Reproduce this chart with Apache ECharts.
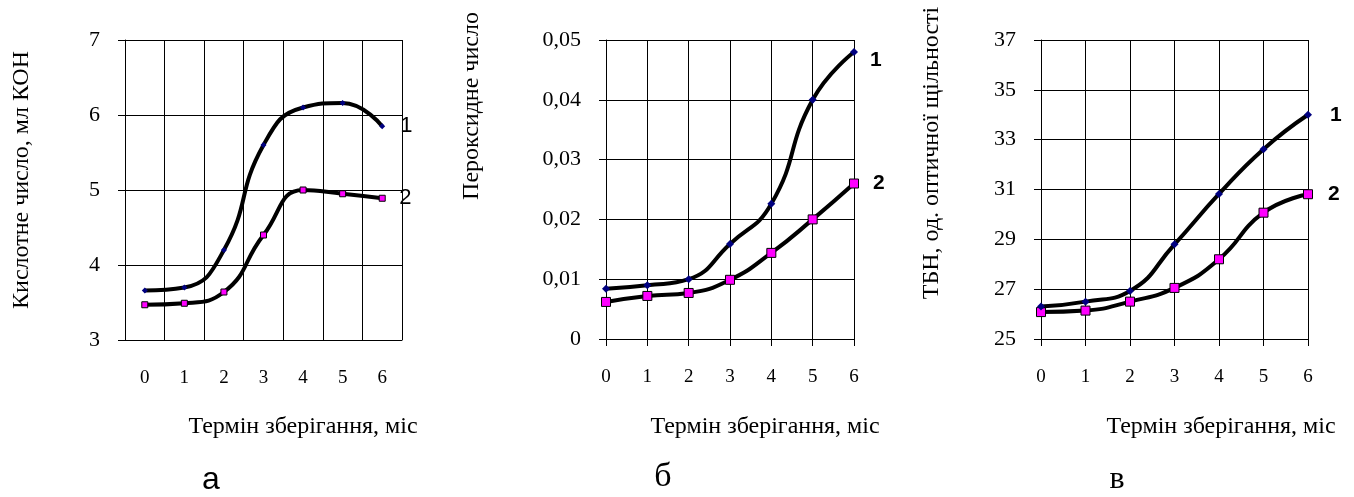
<!DOCTYPE html>
<html>
<head>
<meta charset="utf-8">
<script src="https://cdn.jsdelivr.net/npm/echarts@6/dist/echarts.min.js"></script>
<style>
  html, body { margin: 0; padding: 0; background: #fff; }
  #chart { width: 1354px; height: 497px; }
</style>
</head>
<body>
<div id="chart"></div>
<script>
// months of storage
const months = ['0', '1', '2', '3', '4', '5', '6'];

// а: кислотне число
const acid1 = [3.66, 3.70, 4.20, 5.60, 6.10, 6.16, 5.85];
const acid2 = [3.47, 3.49, 3.64, 4.40, 5.00, 4.95, 4.89];

// б: пероксидне число
const perox1 = [0.0084, 0.0090, 0.0100, 0.0159, 0.0226, 0.0400, 0.0480];
const perox2 = [0.0062, 0.0072, 0.0077, 0.0099, 0.0144, 0.0200, 0.0260];

// в: ТБН
const tbn1 = [26.30, 26.50, 26.93, 28.80, 30.82, 32.62, 34.00];
const tbn2 = [26.08, 26.14, 26.50, 27.05, 28.20, 30.07, 30.81];
const tbnTicks = [25, 27, 29, 31, 33, 35, 37];

const serif = 'Liberation Serif';
const sans = 'Liberation Sans';

const chart = echarts.init(document.getElementById('chart'));

function xAxis(gridIndex, boundaryGap) {
  return {
    gridIndex,
    type: 'category',
    data: months,
    boundaryGap,
    axisLine: { lineStyle: { color: '#000', width: 1 } },
    axisTick: { length: 7, lineStyle: { color: '#000' } },
    axisLabel: { fontFamily: serif, fontSize: 19, color: '#000', margin: 29 },
    splitLine: { show: true, lineStyle: { color: '#000', width: 1 } }
  };
}

function yAxis(gridIndex, extra) {
  return Object.assign({
    gridIndex,
    type: 'value',
    axisLine: { show: true, lineStyle: { color: '#000', width: 1 } },
    axisTick: { show: true, length: 7, lineStyle: { color: '#000' } },
    axisLabel: { fontFamily: serif, fontSize: 22, color: '#000', margin: 25 },
    splitLine: { show: true, lineStyle: { color: '#000', width: 1 } }
  }, extra);
}

function line(idx, data, num, isFirst, symSize, bold, dist, offY) {
  return {
    type: 'line',
    xAxisIndex: idx,
    yAxisIndex: idx,
    data,
    smooth: 0.5,
    symbol: isFirst ? 'diamond' : 'rect',
    symbolSize: symSize,
    lineStyle: { color: '#000', width: 4 },
    itemStyle: isFirst
      ? { color: '#000080' }
      : { color: '#ff00ff', borderColor: '#000', borderWidth: 1 },
    endLabel: {
      show: true,
      formatter: num,
      distance: dist,
      offset: [0, offY || 0],
      fontFamily: sans,
      fontSize: bold ? 21 : 22,
      fontWeight: bold ? 'bold' : 'normal',
      color: '#000'
    },
    z: isFirst ? 3 : 2
  };
}

function vText(x, y, text) {
  return {
    type: 'text', x, y, rotation: Math.PI / 2,
    style: { text, fontFamily: serif, fontSize: 24, fill: '#000', align: 'center', verticalAlign: 'middle' }
  };
}

function hText(x, y, text, size, family) {
  return {
    type: 'text', x, y,
    style: { text, fontFamily: family || serif, fontSize: size, fill: '#000', align: 'center', verticalAlign: 'middle' }
  };
}

const option = {
  animation: false,
  grid: [
    { left: 125, top: 40, width: 277, height: 300 },
    { left: 606, top: 40, width: 248, height: 299 },
    { left: 1041, top: 40, width: 267, height: 299 }
  ],
  xAxis: [xAxis(0, true), xAxis(1, false), xAxis(2, false)],
  yAxis: [
    yAxis(0, { min: 3, max: 7, interval: 1 }),
    yAxis(1, {
      min: 0, max: 0.05, interval: 0.01,
      axisLabel: {
        fontFamily: serif, fontSize: 22, color: '#000', margin: 25,
        formatter: v => (v === 0 ? '0' : v.toFixed(2).replace('.', ','))
      }
    }),
    yAxis(2, {
      min: 25, max: 37,
      axisTick: { show: true, length: 7, lineStyle: { color: '#000' }, customValues: tbnTicks },
      axisLabel: { fontFamily: serif, fontSize: 22, color: '#000', margin: 25, customValues: tbnTicks }
    })
  ],
  series: [
    line(0, acid1, '1', true, 6, false, 18),
    line(0, acid2, '2', false, 6, false, 17),
    line(1, perox1, '1', true, 8, true, 16, 8),
    line(1, perox2, '2', false, 9, true, 19),
    line(2, tbn1, '1', true, 8, true, 22),
    line(2, tbn2, '2', false, 9, true, 20)
  ],
  graphic: [
    vText(22, 180, 'Кислотне число, мл КОН'),
    vText(472, 106, 'Пероксидне число'),
    vText(932, 153, 'ТБН, од. оптичної щільності'),
    hText(303, 427, 'Термін зберігання, міс', 24),
    hText(765, 427, 'Термін зберігання, міс', 24),
    hText(1221, 427, 'Термін зберігання, міс', 24),
    hText(211, 480, 'а', 32, sans),
    hText(663, 477, 'б', 34),
    hText(1117, 480, 'в', 32)
  ]
};

chart.setOption(option);
</script>
</body>
</html>
